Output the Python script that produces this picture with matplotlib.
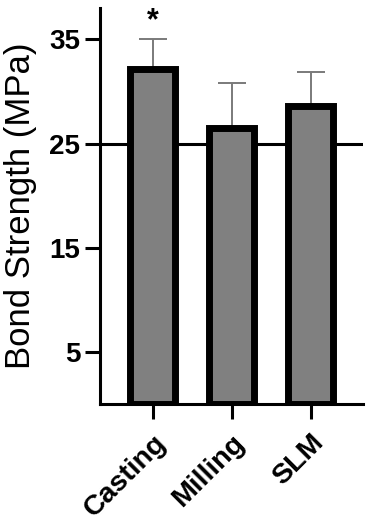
import matplotlib

matplotlib.use("Agg")
import matplotlib.pyplot as plt
import numpy as np

groups = ["Casting", "Milling", "SLM"]
means = [32.1, 26.5, 28.6]
sds = [2.9, 4.3, 3.3]
marks = ["*", "", ""]
ref_line = 25
yticks = [5, 15, 25, 35]

plt.rcParams["font.family"] = ["Liberation Sans", "DejaVu Sans"]

fig = plt.figure(figsize=(3.70, 5.26), dpi=100)
ax = fig.add_axes([0.270, 0.231, 0.711, 0.754])

x = np.arange(len(groups))
ax.axhline(ref_line, color="black", lw=2.2, zorder=1)
ax.errorbar(x, means, yerr=[np.zeros(len(sds)), sds], fmt="none",
            ecolor="#7a7a7a", elinewidth=1.4, capsize=10, capthick=1.4, zorder=2)
ax.bar(x, means, width=0.57, color="#808080", edgecolor="black",
       linewidth=5, zorder=3)

for xi, m, s, t in zip(x, means, sds, marks):
    if t:
        ax.text(xi, m + s + 1.7, t, ha="center", va="center",
                fontsize=22, fontweight="bold")

ax.set_xlim(-0.67, 2.66)
ax.set_ylim(0, 38)
ax.set_yticks(yticks)
ax.set_yticklabels([str(v) for v in yticks], fontsize=20, fontweight="bold")
ax.set_xticks(x)
ax.set_xticklabels(groups, fontsize=20.5, fontweight="bold", rotation=45,
                   ha="right", va="top", rotation_mode="anchor")
ax.set_ylabel("Bond Strength (MPa)", fontsize=25, labelpad=9)

for side in ("top", "right"):
    ax.spines[side].set_visible(False)
for side in ("left", "bottom"):
    ax.spines[side].set_linewidth(2.2)
ax.tick_params(axis="both", width=2.2, length=11, pad=3)
ax.tick_params(axis="x", pad=7)

fig.savefig("out.png", dpi=100)
